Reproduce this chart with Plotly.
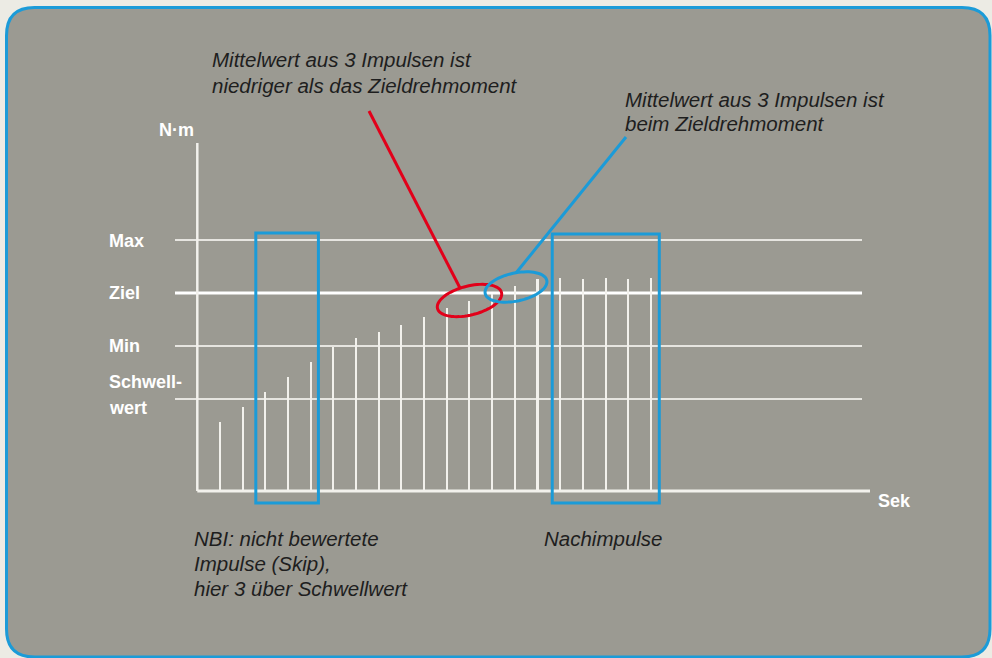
import math
import plotly.graph_objects as go

# ---------------- data ----------------
pulse_no = list(range(1, 21))
torque = [69, 84, 99, 114, 129, 144, 153, 159, 166, 174,
          183, 190, 197, 205, 212, 213, 212, 213, 212, 213]
level_names = ["Schwellwert", "Min", "Ziel", "Max"]
level_values = [92, 145, 198, 251]
skip_range = [2.58, 5.34]        # NBI window (pulse axis)
after_range = [15.65, 20.37]     # Nachimpulse window (pulse axis)

# ---------------- geometry helpers ----------------
W, H = 992, 658
X0PX, DX = 197.3, 22.68   # pixel of x=0 and pixels per pulse
Y0PX = 491.0               # pixel of y=0 (1 unit per pixel)

def px2x(px):
    return (px - X0PX) / DX

def fx(px):
    return px / W

def fy(py):
    return 1 - py / H

WHITE = "#F2F1EC"
BLUE = "#1B9BD8"
RED = "#E2001A"
TXT = "#1E1E1E"
PANEL = "#9B9A92"
OUTER = "#ECEBE4"

fig = go.Figure()

# impulses as thin bars
fig.add_trace(go.Bar(
    x=pulse_no, y=torque, width=0.09,
    marker=dict(color=WHITE, line=dict(width=0)),
    hoverinfo="skip", showlegend=False,
))

shapes = []

# panel with rounded corners
L, T, R, B, r = 6.5, 7.5, 990.0, 657.0, 28
panel_path = (
    f"M {fx(L+r)},{fy(T)} L {fx(R-r)},{fy(T)} Q {fx(R)},{fy(T)} {fx(R)},{fy(T+r)} "
    f"L {fx(R)},{fy(B-r)} Q {fx(R)},{fy(B)} {fx(R-r)},{fy(B)} "
    f"L {fx(L+r)},{fy(B)} Q {fx(L)},{fy(B)} {fx(L)},{fy(B-r)} "
    f"L {fx(L)},{fy(T+r)} Q {fx(L)},{fy(T)} {fx(L+r)},{fy(T)} Z"
)
shapes.append(dict(type="path", xref="paper", yref="paper", path=panel_path,
                   fillcolor=PANEL, line=dict(color=BLUE, width=3), layer="below"))

# level lines
for name, v in zip(level_names, level_values):
    shapes.append(dict(type="line", xref="x", yref="y",
                       x0=px2x(175), x1=px2x(862), y0=v, y1=v,
                       line=dict(color="#FFFFFF" if name == "Ziel" else "#E6E5E0",
                                 width=3 if name == "Ziel" else 2),
                       layer="below"))

# axes
shapes.append(dict(type="line", xref="x", yref="y", x0=0, x1=0, y0=0, y1=348,
                   line=dict(color=WHITE, width=2.5), layer="below"))
shapes.append(dict(type="line", xref="x", yref="y", x0=0, x1=px2x(870), y0=0, y1=0,
                   line=dict(color=WHITE, width=3), layer="below"))

# windows
for rng, top in [(skip_range, 258), (after_range, 257)]:
    shapes.append(dict(type="rect", xref="x", yref="y",
                       x0=rng[0], x1=rng[1], y0=-12, y1=top,
                       line=dict(color=BLUE, width=3), fillcolor="rgba(0,0,0,0)"))

# tilted ellipses
def ellipse_path(cx, cy, a, b, deg, n=72):
    t = math.radians(deg)
    pts = []
    for k in range(n + 1):
        s = 2 * math.pi * k / n
        ex, ey = a * math.cos(s), b * math.sin(s)
        px = cx + ex * math.cos(t) + ey * math.sin(t)
        py = cy - ex * math.sin(t) + ey * math.cos(t)
        pts.append(f"{fx(px):.5f},{fy(py):.5f}")
    return "M " + " L ".join(pts) + " Z"

shapes.append(dict(type="path", xref="paper", yref="paper",
                   path=ellipse_path(469.5, 300.5, 33, 14.5, 14),
                   line=dict(color=RED, width=3)))
shapes.append(dict(type="path", xref="paper", yref="paper",
                   path=ellipse_path(516, 287, 31.5, 14, 12),
                   line=dict(color=BLUE, width=3)))

# pointer lines
shapes.append(dict(type="line", xref="paper", yref="paper",
                   x0=fx(369), y0=fy(111), x1=fx(460), y1=fy(288),
                   line=dict(color=RED, width=3)))
shapes.append(dict(type="line", xref="paper", yref="paper",
                   x0=fx(626), y0=fy(137), x1=fx(516), y1=fy(273),
                   line=dict(color=BLUE, width=3)))

annotations = []

def txt(s, px, py, italic=True, bold=False, color=TXT, size=20.5):
    annotations.append(dict(
        text=s, xref="paper", yref="paper", x=fx(px), y=fy(py),
        xanchor="left", yanchor="middle", showarrow=False,
        font=dict(family="Liberation Sans, Arial, sans-serif", size=size, color=color,
                  style="italic" if italic else "normal",
                  weight="bold" if bold else "normal"),
    ))

txt("Mittelwert aus 3 Impulsen ist", 210, 60)
txt("niedriger als das Zieldrehmoment", 210, 85)
txt("Mittelwert aus 3 Impulsen ist", 623, 99)
txt("beim Zieldrehmoment", 623, 124)
txt("NBI: nicht bewertete", 192, 538)
txt("Impulse (Skip),", 192, 563)
txt("hier 3 über Schwellwert", 192, 588)
txt("Nachimpulse", 542, 538)

BS = 18
level_label_pos = {"Max": 241, "Ziel": 293, "Min": 346}
for name in ["Max", "Ziel", "Min"]:
    txt(name, 107, level_label_pos[name], italic=False, bold=True, color="#FFFFFF", size=BS)
txt("Schwell-", 107, 382, italic=False, bold=True, color="#FFFFFF", size=BS)
txt("wert", 107, 408, italic=False, bold=True, color="#FFFFFF", size=BS)
txt("N·m", 157, 130, italic=False, bold=True, color="#FFFFFF", size=BS)
txt("Sek", 876, 501, italic=False, bold=True, color="#FFFFFF", size=BS)

fig.update_layout(
    width=W, height=H,
    margin=dict(l=0, r=0, t=0, b=0),
    paper_bgcolor=OUTER, plot_bgcolor="rgba(0,0,0,0)",
    xaxis=dict(range=[px2x(0), px2x(W)], visible=False, fixedrange=True),
    yaxis=dict(range=[-(H - Y0PX), Y0PX], visible=False, fixedrange=True),
    shapes=shapes, annotations=annotations,
    bargap=0, showlegend=False,
)

fig.write_html(
    "out.html",
    config={"displayModeBar": False},
    post_script="document.body.style.margin='0';document.body.style.padding='0';"
                "document.body.style.overflow='hidden';"
                "document.body.style.background='" + OUTER + "';",
)
